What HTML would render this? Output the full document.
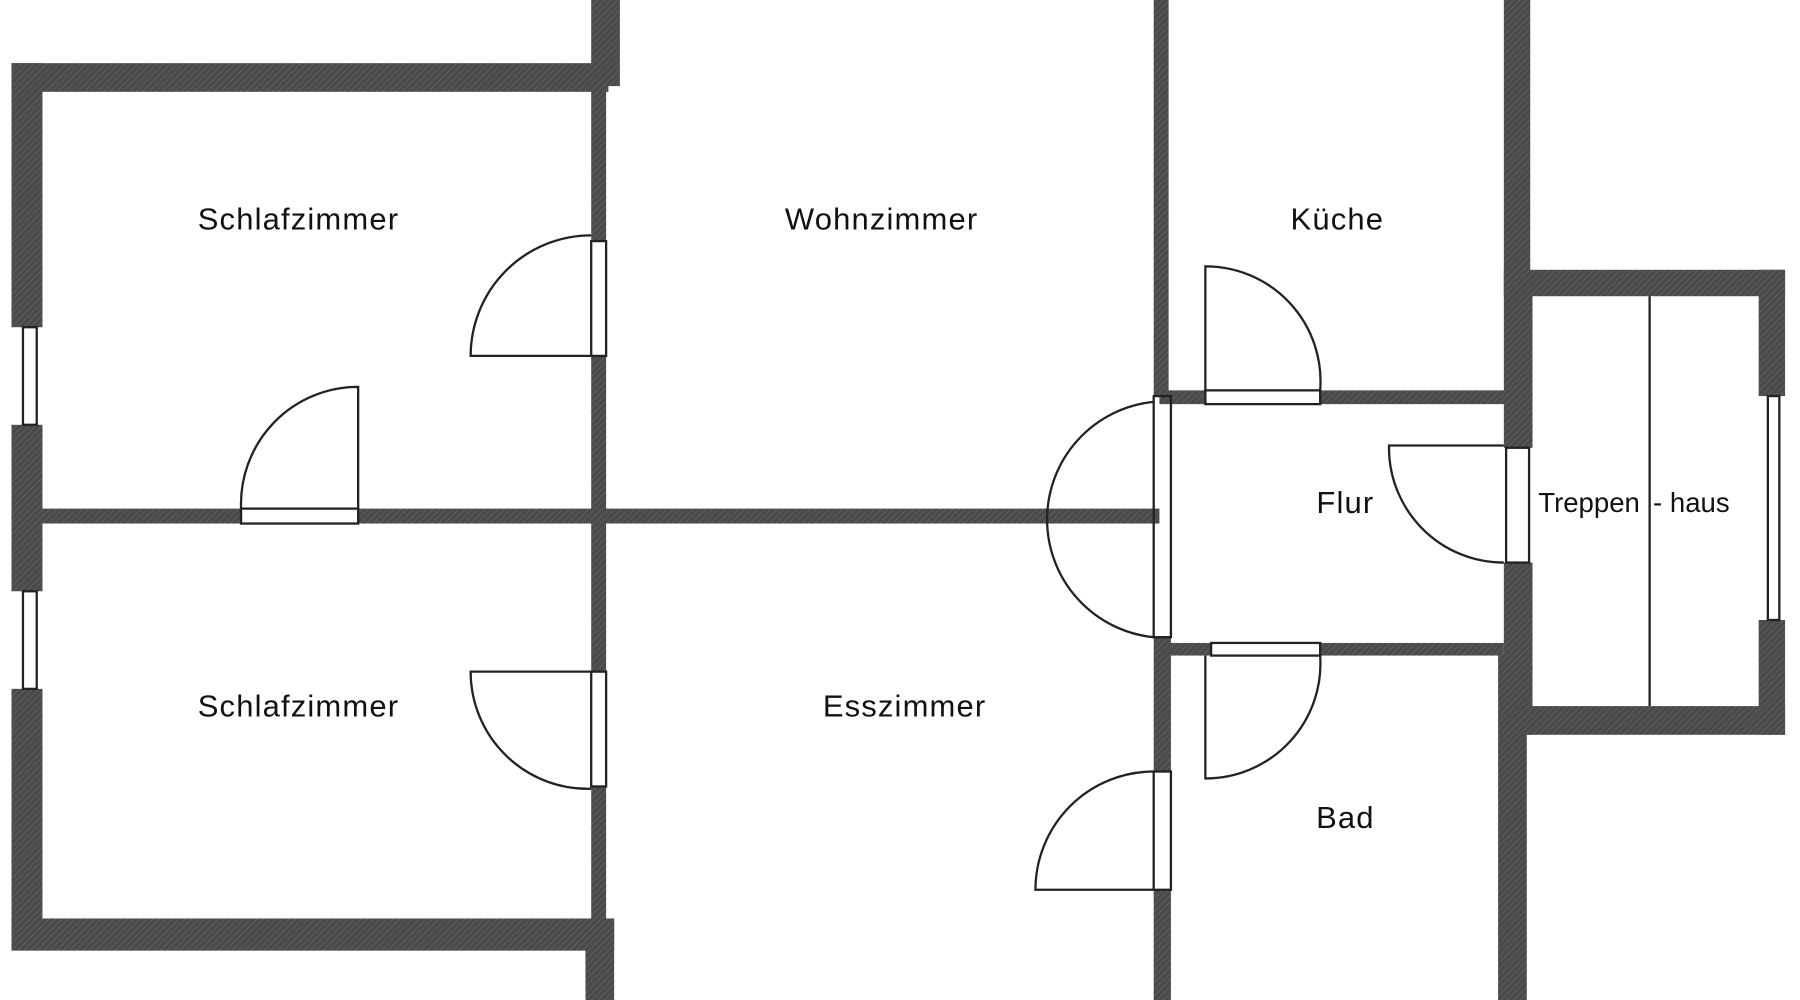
<!DOCTYPE html>
<html><head><meta charset="utf-8"><style>
html,body{margin:0;padding:0;background:#fff;width:1800px;height:1000px;overflow:hidden}
svg{display:block}
text{font-family:"Liberation Sans",sans-serif;font-size:27px;fill:#111;letter-spacing:1px}
</style></head><body>
<svg width="1800" height="1000" viewBox="0 0 1568 871" preserveAspectRatio="none" xmlns="http://www.w3.org/2000/svg">
<defs>
<pattern id="h" width="4" height="4" patternUnits="userSpaceOnUse" patternTransform="rotate(45)">
<rect width="4" height="4" fill="#4a4a4a"/><line x1="0" y1="0" x2="0" y2="4" stroke="#6a6a6a" stroke-width="1"/>
</pattern>
</defs>
<g fill="url(#h)">
<!-- left building outer -->
<rect x="10" y="55" width="520" height="25"/>
<rect x="515" y="0" width="25" height="75"/>
<rect x="10" y="55" width="27" height="230"/>
<rect x="10" y="370" width="27" height="145"/>
<rect x="10" y="600" width="27" height="205"/>
<rect x="10" y="800" width="525" height="28"/>
<rect x="510" y="800" width="25" height="71"/>
<!-- interior vertical -->
<rect x="515" y="75" width="13" height="135"/>
<rect x="515" y="310" width="13" height="275"/>
<rect x="515" y="685" width="13" height="120"/>
<!-- horizontal wall -->
<rect x="30" y="443" width="180" height="13"/>
<rect x="312" y="443" width="698" height="13"/>
<!-- Wohn/Küche wall -->
<rect x="1005" y="0" width="13" height="345"/>
<rect x="1005" y="555" width="15" height="117"/>
<rect x="1005" y="775" width="15" height="96"/>
<!-- Küche right wall -->
<rect x="1310" y="0" width="23" height="245"/>
<!-- staircase -->
<rect x="1310" y="235" width="245" height="23"/>
<rect x="1532" y="235" width="23" height="110"/>
<rect x="1532" y="540" width="23" height="100"/>
<rect x="1310" y="615" width="245" height="25"/>
<rect x="1310" y="245" width="25" height="145"/>
<rect x="1310" y="490" width="25" height="150"/>
<!-- Flur walls -->
<rect x="1010" y="340" width="40" height="12"/>
<rect x="1150" y="340" width="175" height="12"/>
<rect x="1010" y="560" width="45" height="11"/>
<rect x="1150" y="560" width="160" height="11"/>
<rect x="1305" y="570" width="25" height="301"/>
</g>
<g fill="none" stroke="#222" stroke-width="2">
<!-- window/door frames -->
<rect x="20" y="285" width="12" height="85"/>
<rect x="20" y="515" width="12" height="85"/>
<rect x="1540" y="345" width="10" height="195"/>
<rect x="515" y="210" width="13" height="100"/>
<rect x="515" y="585" width="13" height="100"/>
<rect x="210" y="443" width="102" height="13"/>
<rect x="1050" y="340" width="100" height="12"/>
<rect x="1055" y="560" width="95" height="11"/>
<rect x="1312" y="390" width="20" height="100"/>
<rect x="1005" y="345" width="15" height="210"/>
<rect x="1005" y="672" width="15" height="103"/>
<line x1="1437" y1="258" x2="1437" y2="615"/>
<!-- door leaves and arcs -->
<path d="M515 310 H410 A105 105 0 0 1 515 205"/>
<path d="M312 443 V337 A102 102 0 0 0 210 443"/>
<path d="M515 585 H410 A102 102 0 0 0 515 687"/>
<path d="M1050 340 V232 A100 100 0 0 1 1150 340"/>
<path d="M1005 350 A103 103 0 0 0 1005 555"/>
<path d="M1310 388 H1210 A100 100 0 0 0 1310 490"/>
<path d="M1050 571 V678 A100 100 0 0 0 1150 571"/>
<path d="M1005 775 H902 A103 103 0 0 1 1005 672"/>
</g>
<text x="260" y="200" text-anchor="middle">Schlafzimmer</text>
<text x="768" y="200" text-anchor="middle">Wohnzimmer</text>
<text x="1165" y="200" text-anchor="middle">Küche</text>
<text x="1172" y="447" text-anchor="middle">Flur</text>
<text x="1340" y="446" style="font-size:24px;letter-spacing:0">Treppen</text>
<text x="1440" y="446" style="font-size:24px;letter-spacing:0">- haus</text>
<text x="260" y="624" text-anchor="middle">Schlafzimmer</text>
<text x="788" y="624" text-anchor="middle">Esszimmer</text>
<text x="1172" y="721" text-anchor="middle">Bad</text>
</svg>
</body></html>
